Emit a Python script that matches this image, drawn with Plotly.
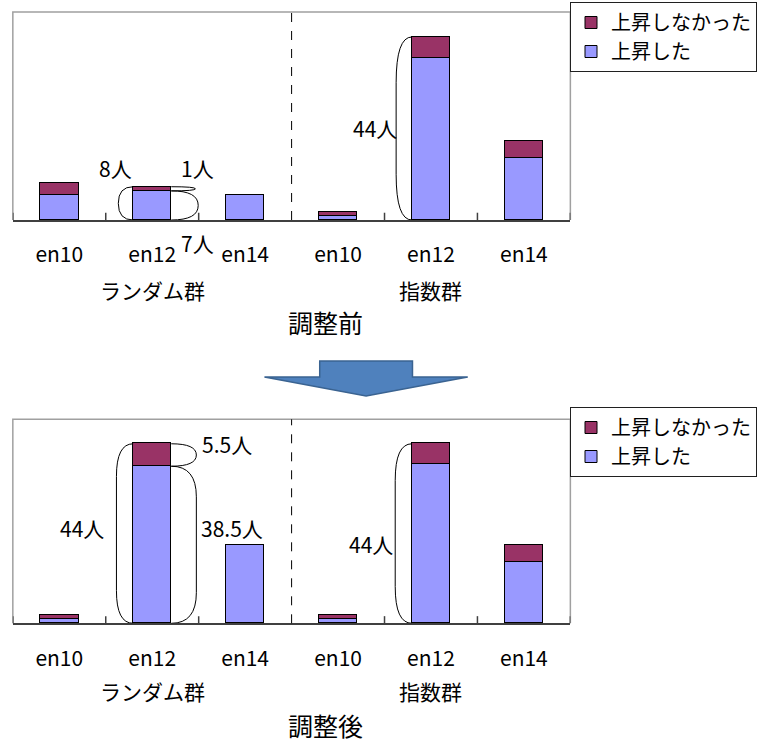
import plotly.graph_objects as go

# ---- data -------------------------------------------------------------
groups = ["ランダム群", "指数群"]
levels = ["en10", "en12", "en14"]
tick_text = levels * 2

# before adjustment
before_up = [6, 7, 6, 1, 39, 15]      # 上昇した
before_flat = [3, 1, 0, 1, 5, 4]      # 上昇しなかった
# after adjustment
after_up = [1, 38.5, 19, 1, 39, 15]
after_flat = [1, 5.5, 0, 1, 5, 4]

series_names = ["上昇した", "上昇しなかった"]
titles = ["調整前", "調整後"]

# ---- styling ----------------------------------------------------------
UP_COLOR = "#9999FF"
FLAT_COLOR = "#993366"
FONT = "Noto Sans CJK JP, Liberation Sans, sans-serif"
BAR_W = 0.41
HALF = BAR_W / 2
Y_MAX = 50
pos = list(range(len(tick_text)))
boundaries = [p - 0.5 for p in pos] + [pos[-1] + 0.5]

fig = go.Figure()


def add_stack(up, flat, xa, ya, legend):
    fig.add_trace(go.Bar(
        x=pos, y=up, name=series_names[0], width=BAR_W,
        marker=dict(color=UP_COLOR, line=dict(color="black", width=1)),
        xaxis=xa, yaxis=ya, legend=legend))
    fig.add_trace(go.Bar(
        x=pos, y=flat, name=series_names[1], width=BAR_W,
        marker=dict(color=FLAT_COLOR, line=dict(color="black", width=1)),
        xaxis=xa, yaxis=ya, legend=legend))


add_stack(before_up, before_flat, "x", "y", "legend")
add_stack(after_up, after_flat, "x2", "y2", "legend2")

X_DOM = [13 / 757, 578 / 757]
Y_DOM_TOP = [1 - 220 / 744, 1 - 12 / 744]
Y_DOM_BOT = [1 - 623.3 / 744, 1 - 419.3 / 744]

axis_x = dict(
    range=[-0.5, 5.5], tickmode="array", tickvals=pos, ticktext=tick_text,
    ticks="", showgrid=False, zeroline=False,
    showline=True, linecolor="#404040", linewidth=2,
    tickfont=dict(size=21, color="black", family=FONT),
    ticklabelstandoff=15,
)
axis_y = dict(range=[0, Y_MAX], visible=False, showgrid=False, zeroline=False)

shapes = []
annotations = []


def frame(xr, yr):
    # grey plot border (left, top, right)
    shapes.append(dict(type="path", xref=f"{xr} domain", yref=f"{yr} domain",
                       path="M0,0 L0,1 L1,1 L1,0",
                       line=dict(color="#A0A0A0", width=1.5), layer="below"))
    # short inward tick marks on category boundaries; dashed line between groups
    for b in boundaries:
        if b == 2.5:
            shapes.append(dict(type="line", xref=xr, yref=f"{yr} domain",
                               x0=b, x1=b, y0=0, y1=1,
                               line=dict(color="black", width=1, dash="dash")))
        else:
            shapes.append(dict(type="line", xref=xr, yref=f"{yr} domain",
                               x0=b, x1=b, y0=0, y1=0.035,
                               line=dict(color="#404040", width=1.5)))


def brace(x_edge, y_top, y_bot, bulge, r, xr, yr):
    xb = x_edge + bulge
    r = min(r, (y_top - y_bot) / 2)
    path = (f"M{x_edge},{y_top} Q{xb},{y_top} {xb},{y_top - r} "
            f"L{xb},{y_bot + r} Q{xb},{y_bot} {x_edge},{y_bot}")
    shapes.append(dict(type="path", path=path, xref=xr, yref=yr,
                       line=dict(color="black", width=1)))


def label(text, x, y, xr, yr, size=21):
    annotations.append(dict(text=text, x=x, y=y, xref=xr, yref=yr,
                            xanchor="center", yanchor="middle",
                            showarrow=False,
                            font=dict(size=size, color="black", family=FONT)))


def people(v):
    return f"{v:g}人"


def group_labels(xr, yr, ypos):
    for gi, g in enumerate(groups):
        label(g, 1 + 3 * gi, ypos, xr, f"{yr} domain", size=21)


# ---- top panel: before adjustment ------------------------------------
frame("x", "y")
group_labels("x", "y", -0.337)
r_tot = before_up[1] + before_flat[1]
brace(1 - HALF, r_tot, 0, -0.16, 4, "x", "y")
brace(1 + HALF, r_tot, before_up[1], 0.26, 1, "x", "y")
brace(1 + HALF, before_up[1], 0, 0.29, 4, "x", "y")
label(people(r_tot), 1 - 0.39, r_tot + 4.5, "x", "y")
label(people(before_flat[1]), 1 + 0.49, r_tot + 4.5, "x", "y")
# sits just under the axis line, so it is placed in domain units
label(people(before_up[1]), 1 + 0.49, -5.6 / Y_MAX, "x", "y domain")
e_tot = before_up[4] + before_flat[4]
brace(4 - HALF, e_tot, 0, -0.17, 11, "x", "y")
label(people(e_tot), 4 - 0.6, e_tot / 2, "x", "y")

# ---- bottom panel: after adjustment ----------------------------------
frame("x2", "y2")
group_labels("x2", "y2", -0.33)
r_tot2 = after_up[1] + after_flat[1]
brace(1 - HALF, r_tot2, 0, -0.18, 8, "x2", "y2")
brace(1 + HALF, r_tot2, after_up[1], 0.27, 3, "x2", "y2")
brace(1 + HALF, after_up[1], 0, 0.27, 7.5, "x2", "y2")
label(people(r_tot2), 1 - 0.76, r_tot2 * 0.53, "x2", "y2")
label(people(after_flat[1]), 1 + 0.8, r_tot2, "x2", "y2")
label(people(after_up[1]), 1 + 0.86, r_tot2 * 0.53, "x2", "y2")
e_tot2 = after_up[4] + after_flat[4]
brace(4 - HALF, e_tot2, 0, -0.18, 9, "x2", "y2")
label(people(e_tot2), 4 - 0.65, e_tot2 * 0.44, "x2", "y2")

# ---- panel titles -----------------------------------------------------
label(titles[0], 330 / 757, 1 - 322 / 744, "paper", "paper", size=25)
label(titles[1], 330 / 757, 1 - 725 / 744, "paper", "paper", size=25)

# ---- block arrow between the panels ----------------------------------
W, H = 757, 744
arrow_pts = [(324, 361), (418, 361), (418, 377), (474, 377),
             (371, 396), (268, 377), (324, 377)]
arrow_path = "M" + " L".join(f"{x / W:.5f},{1 - y / H:.5f}" for x, y in arrow_pts) + " Z"
shapes.append(dict(type="path", xref="paper", yref="paper", path=arrow_path,
                   fillcolor="#4F81BD", line=dict(color="#3A6391", width=1.5)))

legend_style = dict(
    x=578 / 757, xanchor="left", yanchor="top", traceorder="reversed",
    bordercolor="#202020", borderwidth=1, bgcolor="white",
    font=dict(size=20, color="black", family=FONT),
)

fig.update_layout(
    width=757, height=744, autosize=False,
    margin=dict(l=0, r=0, t=0, b=0),
    paper_bgcolor="white", plot_bgcolor="white",
    barmode="stack", bargap=0,
    font=dict(family=FONT, color="black"),
    xaxis=dict(axis_x, domain=X_DOM, anchor="y"),
    yaxis=dict(axis_y, domain=Y_DOM_TOP, anchor="x"),
    xaxis2=dict(axis_x, domain=X_DOM, anchor="y2"),
    yaxis2=dict(axis_y, domain=Y_DOM_BOT, anchor="x2"),
    legend=dict(legend_style, y=1 - 2 / 744),
    legend2=dict(legend_style, y=1 - 407 / 744),
    shapes=shapes,
    annotations=annotations,
)

fig.write_html("out.html")
